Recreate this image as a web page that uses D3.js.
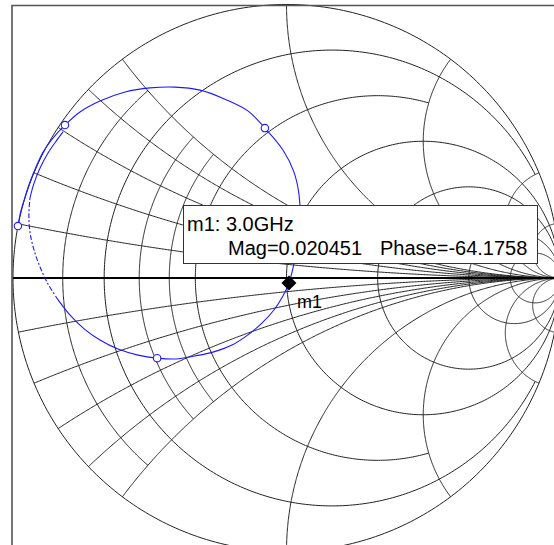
<!DOCTYPE html>
<html>
<head>
<meta charset="utf-8">
<script src="https://cdn.jsdelivr.net/npm/d3@7"></script>
<style>
  body { margin: 0; background: #ffffff; }
  svg { display: block; }
</style>
</head>
<body>
<svg id="chart" width="554" height="545"></svg>
<script>
// Smith chart grid: constant-resistance circles and the |x| they extend to
const resistanceValues = [0.1, 0.2, 0.3, 0.4, 0.5, 1, 2, 5, 10];
const resistanceExtent = [0.5, 5, 0.5, 0.5, 2, Infinity, Infinity, Infinity, Infinity];
// constant-reactance arcs and the r they extend to
const reactanceValues = [0.1, 0.2, 0.3, 0.4, 0.5, 1, 2, 5, 10];
const reactanceExtent = [Infinity, Infinity, Infinity, Infinity, Infinity, Infinity, Infinity, Infinity, Infinity];

// S11 trace (reflection coefficient, real / imaginary)
const traceRe = [-0.982, -0.971, -0.956, -0.938, -0.916, -0.890, -0.857, -0.810,
  -0.755, -0.682, -0.590, -0.499, -0.408, -0.316, -0.225, -0.141, -0.079,
  -0.013, 0.027, 0.046, 0.049, 0.038, 0.024, 0.009, -0.013, -0.046, -0.090,
  -0.141, -0.199, -0.269, -0.335, -0.404, -0.473, -0.543, -0.616, -0.682,
  -0.740, -0.792, -0.835, -0.872, -0.901, -0.923, -0.938, -0.942, -0.938,
  -0.923, -0.901, -0.872, -0.839, -0.817];
const traceIm = [0.190, 0.245, 0.296, 0.351, 0.406, 0.461, 0.508, 0.559,
  0.607, 0.647, 0.680, 0.695, 0.698, 0.687, 0.654, 0.611, 0.548,
  0.468, 0.388, 0.303, 0.205, 0.110, 0.037, -0.018, -0.066, -0.117, -0.165,
  -0.208, -0.245, -0.271, -0.285, -0.296, -0.293, -0.282, -0.260, -0.227,
  -0.186, -0.135, -0.080, -0.022, 0.040, 0.102, 0.168, 0.230, 0.293,
  0.347, 0.402, 0.457, 0.505, 0.534];
// samples drawn with an open circle
const dotIndex = [0, 7, 16, 32];
// stretch of the trace that renders broken (sparse samples)
const brokenSpan = [38, 44];

// marker readout
const markerName = "m1";
const markerFreq = "3.0GHz";
const markerMag = 0.020451;
const markerPhase = -64.1758;

const cx = 286.5, cy = 278, R = 273.5;
const xs = d3.scaleLinear().domain([-1, 1]).range([cx - R, cx + R]);
const ys = d3.scaleLinear().domain([-1, 1]).range([cy + R, cy - R]);

const svg = d3.select("#chart");
const line = d3.line().x(d => xs(d[0])).y(d => ys(d[1]));
const smooth = d3.line().x(d => xs(d[0])).y(d => ys(d[1])).curve(d3.curveCatmullRom);

function gamma(r, x) {
  const den = (r + 1) * (r + 1) + x * x;
  return [(r * r + x * x - 1) / den, 2 * x / den];
}

// resistance circle r for |x| <= xmax
function resistancePoints(r, xmax) {
  const c = r / (1 + r), rho = 1 / (1 + r);
  let t0 = 0;
  if (isFinite(xmax)) {
    const g = gamma(r, xmax);
    t0 = Math.atan2(g[1], g[0] - c);
  }
  const t1 = 2 * Math.PI - t0;
  return d3.range(0, 361).map(i => {
    const t = t0 + (t1 - t0) * i / 360;
    return [c + rho * Math.cos(t), rho * Math.sin(t)];
  });
}

// reactance arc x (>0) for 0 <= r <= rmax, mirrored for -x
function reactancePoints(x, rmax, sign) {
  const k = 1 / x;
  const norm = a => { while (a < Math.PI / 2) a += 2 * Math.PI; while (a > 1.5 * Math.PI + 1e-9) a -= 2 * Math.PI; return a; };
  const g0 = gamma(0, x);
  const p0 = norm(Math.atan2(g0[1] - k, g0[0] - 1));
  let p1 = 1.5 * Math.PI;
  if (isFinite(rmax)) {
    const g1 = gamma(rmax, x);
    p1 = norm(Math.atan2(g1[1] - k, g1[0] - 1));
  }
  return d3.range(0, 361).map(i => {
    const p = p0 + (p1 - p0) * i / 360;
    return [1 + k * Math.cos(p), sign * (k + k * Math.sin(p))];
  });
}

const grid = svg.append("g")
  .attr("fill", "none")
  .attr("stroke", "#222")
  .attr("stroke-width", 1);

// outer circle
grid.append("path").attr("d", line(resistancePoints(0, Infinity)));

resistanceValues.forEach((r, i) => {
  grid.append("path").attr("d", line(resistancePoints(r, resistanceExtent[i])));
});
reactanceValues.forEach((x, i) => {
  [1, -1].forEach(s => {
    grid.append("path").attr("d", line(reactancePoints(x, reactanceExtent[i], s)));
  });
});

// real axis
svg.append("line")
  .attr("x1", xs(-1)).attr("x2", 554)
  .attr("y1", ys(0)).attr("y2", ys(0))
  .attr("stroke", "#000").attr("stroke-width", 2);

// plot frame
svg.append("path")
  .attr("d", `M12,545 V5.5 H554`)
  .attr("fill", "none").attr("stroke", "#555").attr("stroke-width", 1.6);

// trace, drawn in three stretches
const pts = traceRe.map((v, i) => [v, traceIm[i]]);
const traceG = svg.append("g")
  .attr("fill", "none").attr("stroke", "#1a1aff").attr("stroke-width", 1.1);
traceG.append("path").attr("d", smooth(pts.slice(0, brokenSpan[0] + 1)));
traceG.append("path").attr("d", smooth(pts.slice(brokenSpan[0], brokenSpan[1] + 1)))
  .attr("stroke-dasharray", "5,2,2,2");
traceG.append("path").attr("d", smooth(pts.slice(brokenSpan[1])));

svg.append("g").selectAll("circle").data(dotIndex).join("circle")
  .attr("cx", i => xs(traceRe[i])).attr("cy", i => ys(traceIm[i]))
  .attr("r", 3.7)
  .attr("fill", "#fff").attr("stroke", "#1a1aff").attr("stroke-width", 1.1);

// marker
const ph = markerPhase * Math.PI / 180;
const mRe = markerMag * Math.cos(ph), mIm = markerMag * Math.sin(ph);
const mx = xs(mRe), my = ys(mIm);
svg.append("path")
  .attr("d", `M${mx},${my - 7.5} L${mx + 7.5},${my} L${mx},${my + 7.5} L${mx - 7.5},${my} Z`)
  .attr("fill", "#000");
svg.append("text")
  .attr("x", mx + 8).attr("y", my + 25)
  .attr("font-family", "'Liberation Sans', Arial, sans-serif")
  .attr("font-size", 18).attr("fill", "#000")
  .text(markerName);

// readout box
const box = svg.append("g").attr("font-family", "'Liberation Sans', Arial, sans-serif")
  .attr("font-size", 20).attr("fill", "#000");
box.append("rect")
  .attr("x", 183.5).attr("y", 205.5).attr("width", 354).attr("height", 58)
  .attr("fill", "#fff").attr("stroke", "#333").attr("stroke-width", 1);
box.append("text").attr("x", 187).attr("y", 231).text(`${markerName}: ${markerFreq}`);
box.append("text").attr("x", 228).attr("y", 255).text(`Mag=${markerMag.toFixed(6)}`);
box.append("text").attr("x", 380).attr("y", 255).text(`Phase=${markerPhase.toFixed(4)}`);
</script>
</body>
</html>
